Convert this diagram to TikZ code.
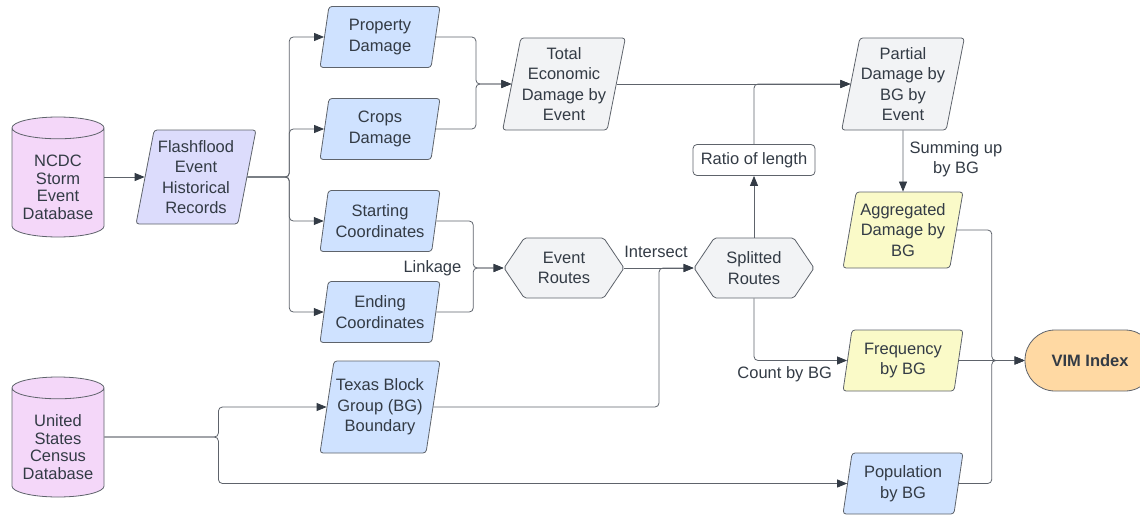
\documentclass[tikz,border=0pt]{standalone}
\usepackage{fontspec}
\setmainfont{Liberation Sans}
\usetikzlibrary{positioning,arrows.meta,calc,shapes.geometric,shapes.symbols}
\definecolor{VLine}{HTML}{5E636B}
\definecolor{VText}{HTML}{333B45}
\definecolor{VPink}{HTML}{F4D7F9}
\definecolor{VLavender}{HTML}{DCDCFC}
\definecolor{VBlue}{HTML}{CFE2FF}
\definecolor{VGrey}{HTML}{F2F3F5}
\definecolor{VYellow}{HTML}{FAFAC8}
\definecolor{VOrange}{HTML}{FFD9A3}

\begin{document}
\begin{tikzpicture}[
    x=1pt, y=-1pt,
    on grid,
    vmbase/.style={
      draw=VLine,
      line width=0.8pt,
      text=VText,
      align=center,
      inner sep=1pt,
      font=\fontsize{16.5}{20.5}\selectfont
    },
    vmdb/.style={
      vmbase,
      cylinder,
      shape border rotate=90,
      aspect=0.3,
      fill=VPink,
      minimum width=92pt,
      minimum height=120pt,
      font=\fontsize{16.5}{17.5}\selectfont
    },
    vmdata/.style={
      vmbase,
      trapezium,
      trapezium left angle=76.5,
      trapezium right angle=103.5,
      trapezium stretches body,
      rounded corners=3pt,
      fill=VBlue,
      minimum width=120pt,
      minimum height=61pt
    },
    vmhex/.style={
      vmbase,
      signal,
      signal to=west and east,
      signal pointer angle=112,
      rounded corners=2pt,
      fill=VGrey,
      minimum width=120pt,
      minimum height=60pt
    },
    vmstep/.style={
      vmbase,
      rectangle,
      rounded corners=4pt,
      fill=white,
      minimum width=122pt,
      minimum height=31pt
    },
    vmend/.style={
      vmbase,
      rectangle,
      rounded corners=30pt,
      fill=VOrange,
      minimum width=130pt,
      minimum height=61pt,
      font=\fontsize{16.5}{20.5}\selectfont\bfseries
    },
    vmlabel/.style={
      text=VText,
      inner sep=0pt,
      align=center,
      font=\fontsize{16.5}{20.5}\selectfont
    },
    vmarrow/.style={
      draw=VLine,
      line width=0.8pt,
      rounded corners=4pt,
      -{Triangle[length=10pt,width=8pt,color=VText]}
    }
  ]
  \useasboundingbox (0,0) rectangle (1140,514);

  % sources (the strut pushes the text below the lid)
  \node[vmdb, anchor=shape center] (ncdc) at (58,177) {\rule{0pt}{19pt}NCDC\\Storm\\Event\\Database};
  \node[vmdb, below=260pt of ncdc] (census) {\rule{0pt}{19pt}United\\States\\Census\\Database};

  % event records
  \node[vmdata, fill=VLavender, minimum height=94pt] (flash) at (196,177) {Flashflood\\Event\\Historical\\Records};
  \node[vmdata, above right=140pt and 184pt of flash] (prop) {Property\\Damage};
  \node[vmdata, below=92pt of prop] (crops) {Crops\\Damage};
  \node[vmdata, below=92pt of crops] (start) {Starting\\Coordinates};
  \node[vmdata, below=91pt of start] (ending) {Ending\\Coordinates};
  \node[vmdata, minimum height=92pt, below=95pt of ending] (texas) {Texas Block\\Group (BG)\\Boundary};

  % middle
  \node[vmdata, fill=VGrey, minimum height=92pt, below right=47pt and 184pt of prop] (total) {Total\\Economic\\Damage by\\Event};
  \node[vmhex, below=184pt of total] (evroutes) {Event\\Routes};
  \node[vmhex, right=190pt of evroutes] (split) {Splitted\\Routes};
  \node[vmstep, above=108pt of split] (ratio) {Ratio of length};

  % by block group
  \node[vmdata, fill=VGrey, minimum height=92pt, right=339pt of total] (partial) {Partial\\Damage by\\BG by\\Event};
  \node[vmdata, fill=VYellow, minimum height=76pt, below=146pt of partial] (aggr) {Aggregated\\Damage by\\BG};
  \node[vmdata, fill=VYellow, below=130.5pt of aggr] (freq) {Frequency\\by BG};
  \node[vmdata, below=123pt of freq] (pop) {Population\\by BG};
  \node[vmend, right=187pt of freq] (vim) {VIM Index};

  % bus points
  \coordinate (fbus) at ($(flash.east)+(42,0)$);
  \coordinate (cbus) at ($(census.east |- census.shape center)+(114,0)$);
  \coordinate (ixn) at ($(evroutes.east)!0.5!(split.west)$);
  \coordinate (vbus) at ($(freq.east)!0.5!(vim.west)$);

  % main flow
  \draw[vmarrow] (ncdc.east |- flash.west) -- (flash.west);
  \foreach \t in {prop,crops,start,ending}
    \draw[vmarrow] (flash.east) -- (fbus) |- (\t.west);
  \draw[vmarrow] (prop.east) -- ++(40,0) |- (total.west);
  \draw[vmarrow] (crops.east) -- ++(40,0) |- (total.west);
  \draw[vmarrow] (start.east) -- ++(37,0) |- (evroutes.west);
  \draw[vmarrow] (ending.east) -- ++(37,0) |- (evroutes.west);
  \draw[vmarrow] (evroutes.east) -- (split.west);
  \draw[vmarrow] (texas.east) -| (ixn) -- (split.west);
  \draw[vmarrow] (split.north) -- (ratio.south);
  \draw[vmarrow] (total.east) -- (partial.west);
  \draw[vmarrow] (ratio.north) |- (partial.west);
  \draw[vmarrow] (partial.south) -- (aggr.north);
  \draw[vmarrow] (split.south) |- (freq.west);

  % census branches
  \draw[vmarrow] (census.east |- cbus) -- (cbus) |- (texas.west);
  \draw[vmarrow] (census.east |- cbus) -- (cbus) |- (pop.west);

  % into the index
  \draw[vmarrow] (aggr.east) -| (vbus) -- (vim.west);
  \draw[vmarrow] (freq.east) -- (vim.west);
  \draw[vmarrow] (pop.east) -| (vbus) -- (vim.west);

  % labels
  \node[vmlabel, anchor=east] (linklbl) at ($(evroutes.west)+(-42,0)$) {Linkage};
  \node[vmlabel] (intlbl) at ($(ixn)+(-3,-16)$) {Intersect};
  \node[vmlabel, anchor=east] (countlbl) at ($(freq.west)+(-15,14)$) {Count by BG};
  \node[vmlabel] (sumlbl) at ($(partial.south)!0.5!(aggr.north)+(53,-2)$) {Summing up\\by BG};

\end{tikzpicture}
\end{document}
